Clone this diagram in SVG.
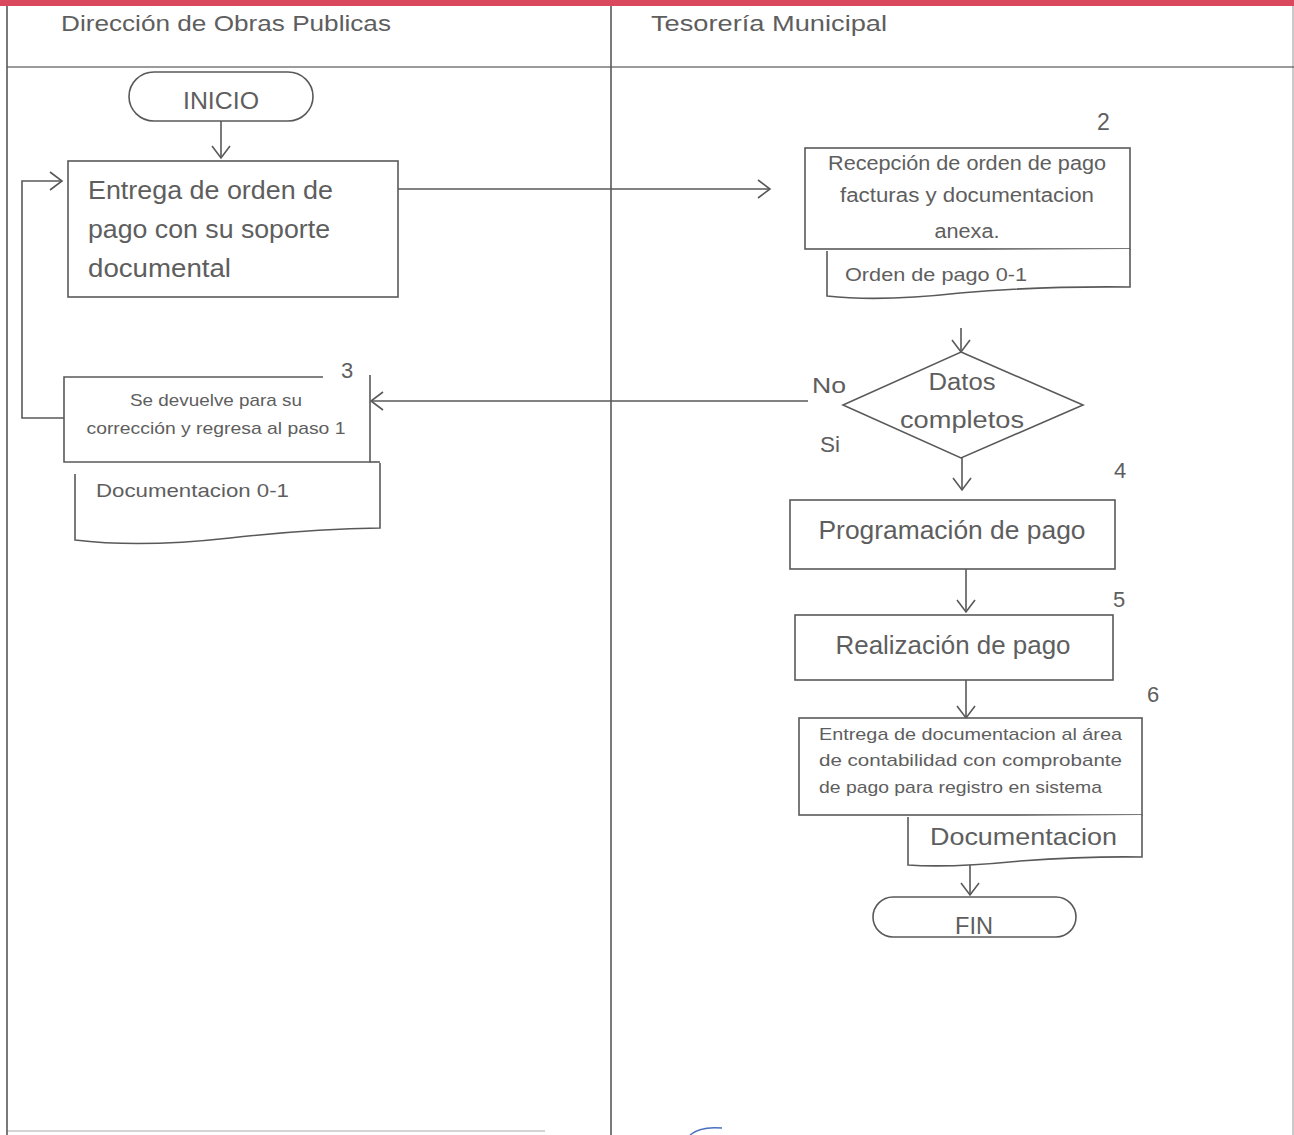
<svg xmlns="http://www.w3.org/2000/svg" width="1294" height="1135" viewBox="0 0 1294 1135">
<style>
.ln{fill:none;stroke:#595959;stroke-width:1.6}
.bx{fill:#fff;stroke:#595959;stroke-width:1.6}
.t{font-family:"Liberation Sans",Arial,sans-serif;fill:#5e5e5e}
.c{text-anchor:middle}
</style>
<defs>
<marker id="ah" markerUnits="userSpaceOnUse" markerWidth="16" markerHeight="22" refX="13" refY="10" orient="auto">
<path d="M1,1 L13,10 L1,19" fill="none" stroke="#595959" stroke-width="1.6"/>
</marker>
</defs>
<rect x="0" y="0" width="1294" height="1135" fill="#fff"/>
<rect x="0" y="0" width="1294" height="6" fill="#d9485c"/>
<g id="lanes">
<line class="ln" x1="7" y1="6" x2="7" y2="1135"/>
<line class="ln" x1="611" y1="6" x2="611" y2="1135"/>
<line class="ln" x1="1293" y1="6" x2="1293" y2="1135" stroke-opacity="0.4"/>
<line class="ln" x1="7" y1="67" x2="1294" y2="67" stroke-opacity="0.8"/>
<line class="ln" x1="7" y1="1131" x2="545" y2="1131" stroke-opacity="0.35"/>
<text class="t" x="61" y="31" font-size="22" textLength="330" lengthAdjust="spacingAndGlyphs">Dirección de Obras Publicas</text>
<text class="t" x="651" y="31" font-size="22" textLength="236" lengthAdjust="spacingAndGlyphs">Tesorería Municipal</text>
</g>
<g id="connectors">
<line class="ln" x1="221" y1="121" x2="221" y2="158" marker-end="url(#ah)"/>
<line class="ln" x1="398" y1="189" x2="770" y2="189" marker-end="url(#ah)"/>
<polyline class="ln" points="64,418 22,418 22,181 62,181" marker-end="url(#ah)"/>
<line class="ln" x1="961" y1="328" x2="961" y2="352" marker-end="url(#ah)"/>
<line class="ln" x1="808" y1="401" x2="371" y2="401" marker-end="url(#ah)"/>
<line class="ln" x1="962" y1="458" x2="962" y2="490" marker-end="url(#ah)"/>
<line class="ln" x1="966" y1="569" x2="966" y2="612" marker-end="url(#ah)"/>
<line class="ln" x1="966" y1="680" x2="966" y2="718" marker-end="url(#ah)"/>
<line class="ln" x1="970" y1="862" x2="970" y2="895" marker-end="url(#ah)"/>
</g>
<g id="inicio">
<rect class="bx" x="129" y="72" width="184" height="49" rx="25"/>
<text class="t c" x="221" y="109" font-size="23" textLength="76" lengthAdjust="spacingAndGlyphs">INICIO</text>
</g>
<g id="paso1">
<rect class="bx" x="68" y="161" width="330" height="136"/>
<text class="t" x="88" y="199" font-size="25" textLength="245" lengthAdjust="spacingAndGlyphs">Entrega de orden de</text>
<text class="t" x="88" y="238" font-size="25" textLength="242" lengthAdjust="spacingAndGlyphs">pago con su soporte</text>
<text class="t" x="88" y="277" font-size="25" textLength="143" lengthAdjust="spacingAndGlyphs">documental</text>
</g>
<g id="paso2">
<rect class="bx" x="805" y="148" width="325" height="101"/>
<text class="t" x="1097" y="130" font-size="23">2</text>
<text class="t c" x="967" y="170" font-size="20" textLength="278" lengthAdjust="spacingAndGlyphs">Recepción de orden de pago</text>
<text class="t c" x="967" y="202" font-size="20" textLength="254" lengthAdjust="spacingAndGlyphs">facturas y documentacion</text>
<text class="t c" x="967" y="238" font-size="20" textLength="65" lengthAdjust="spacingAndGlyphs">anexa.</text>
<path class="bx" d="M827,251 L827,296 Q880,302 960,293 Q1040,286 1130,287 L1130,249"/>
<text class="t" x="845" y="281" font-size="19" textLength="182" lengthAdjust="spacingAndGlyphs">Orden de pago 0-1</text>
</g>
<g id="paso3">
<path class="bx" d="M323,377 L64,377 L64,462 L370,462 L370,375"/>
<text class="t" x="341" y="378" font-size="22">3</text>
<text class="t c" x="216" y="406" font-size="17" textLength="172" lengthAdjust="spacingAndGlyphs">Se devuelve para su</text>
<text class="t c" x="216" y="434" font-size="17" textLength="259" lengthAdjust="spacingAndGlyphs">corrección y regresa al paso 1</text>
<line class="ln" x1="370" y1="462" x2="380" y2="462"/>
<path class="bx" d="M75,474 L75,540 Q140,548 230,538 Q310,529 380,528 L380,463"/>
<text class="t" x="96" y="497" font-size="19" textLength="193" lengthAdjust="spacingAndGlyphs">Documentacion 0-1</text>
</g>
<g id="decision">
<polygon class="bx" points="961,352 1083,405 961,458 843,405"/>
<text class="t c" x="962" y="390" font-size="23" textLength="67" lengthAdjust="spacingAndGlyphs">Datos</text>
<text class="t c" x="962" y="428" font-size="23" textLength="124" lengthAdjust="spacingAndGlyphs">completos</text>
<text class="t" x="812" y="393" font-size="22" textLength="34" lengthAdjust="spacingAndGlyphs">No</text>
<text class="t" x="820" y="452" font-size="22" textLength="20" lengthAdjust="spacingAndGlyphs">Si</text>
</g>
<g id="paso4">
<text class="t" x="1114" y="478" font-size="22">4</text>
<rect class="bx" x="790" y="500" width="325" height="69"/>
<text class="t c" x="952" y="539" font-size="25" textLength="267" lengthAdjust="spacingAndGlyphs">Programación de pago</text>
</g>
<g id="paso5">
<text class="t" x="1113" y="607" font-size="22">5</text>
<rect class="bx" x="795" y="615" width="318" height="65"/>
<text class="t c" x="953" y="654" font-size="25" textLength="235" lengthAdjust="spacingAndGlyphs">Realización de pago</text>
</g>
<g id="paso6">
<text class="t" x="1147" y="702" font-size="22">6</text>
<rect class="bx" x="799" y="718" width="343" height="97"/>
<text class="t" x="819" y="740" font-size="17" textLength="303" lengthAdjust="spacingAndGlyphs">Entrega de documentacion al área</text>
<text class="t" x="819" y="766" font-size="17" textLength="303" lengthAdjust="spacingAndGlyphs">de contabilidad con comprobante</text>
<text class="t" x="819" y="793" font-size="17" textLength="283" lengthAdjust="spacingAndGlyphs">de pago para registro en sistema</text>
<path class="bx" d="M908,817 L908,865 Q950,868 1020,861 Q1090,856 1142,857 L1142,815"/>
<text class="t" x="930" y="845" font-size="24" textLength="187" lengthAdjust="spacingAndGlyphs">Documentacion</text>
</g>
<g id="fin">
<rect class="bx" x="873" y="897" width="203" height="40" rx="20"/>
<text class="t c" x="974" y="934" font-size="23" textLength="38" lengthAdjust="spacingAndGlyphs">FIN</text>
</g>
<path d="M690,1135 Q700,1126 722,1128" fill="none" stroke="#4a6fc0" stroke-width="1.5"/>
</svg>
